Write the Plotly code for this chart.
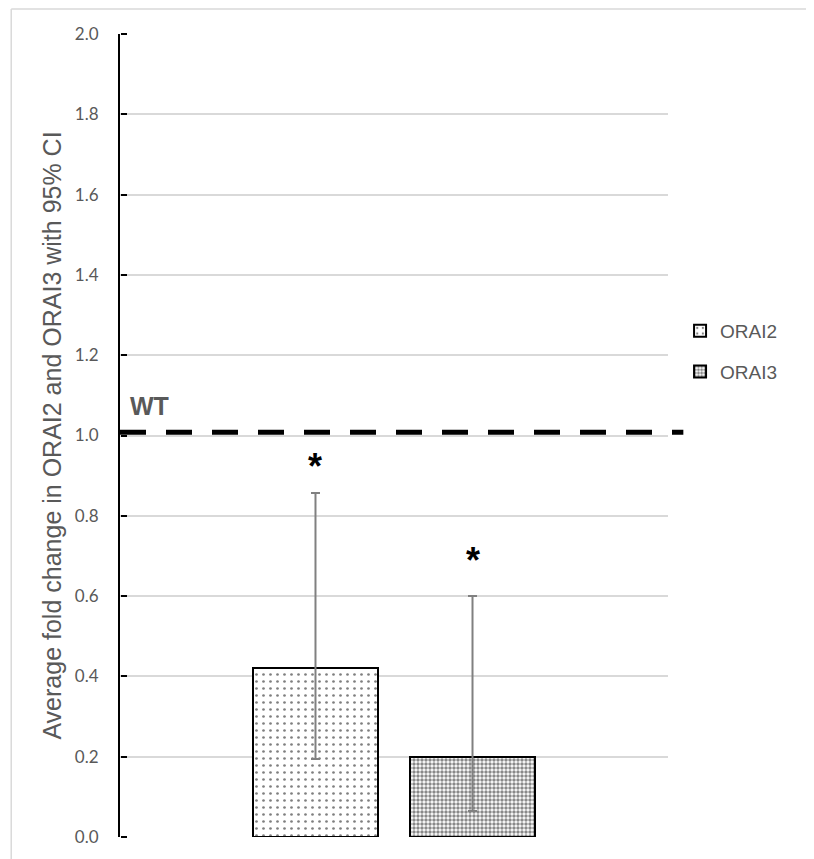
import plotly.graph_objects as go

# ---- data ----
series = ["ORAI2", "ORAI3"]
positions = [1, 2]
values = [0.42, 0.20]
ci_upper = [0.857, 0.60]
ci_lower = [0.194, 0.065]
sig_y = [0.93, 0.695]
sig_marks = ["*", "*"]
wt_level = 1.008
wt_label = "WT"
y_ticks = [0.0, 0.2, 0.4, 0.6, 0.8, 1.0, 1.2, 1.4, 1.6, 1.8, 2.0]
y_title = "Average fold change in ORAI2 and ORAI3 with 95% CI"

GRAY = "#595959"
patterns = [
    dict(shape=".", size=7, solidity=0.12, fgcolor="#000000", bgcolor="#ffffff", fillmode="overlay"),
    dict(shape=".", size=4, solidity=0.6, fgcolor="#111111", bgcolor="#ffffff", fillmode="overlay"),
]

fig = go.Figure()
for i, name in enumerate(series):
    fig.add_trace(go.Bar(
        x=[positions[i]], y=[values[i]], name=name, width=0.8, legendgroup=name,
        marker=dict(color="#ffffff", line=dict(color="#000000", width=2), pattern=patterns[i]),
        error_y=dict(type="data", symmetric=False,
                     array=[ci_upper[i] - values[i]],
                     arrayminus=[values[i] - ci_lower[i]],
                     color="#808080", thickness=2, width=4.5),
    ))
    fig.add_annotation(x=positions[i], y=sig_y[i], text="<b>" + sig_marks[i] + "</b>", showarrow=False,
                       yanchor="middle", yshift=-3,
                       font=dict(size=36, color="#000000", family="Liberation Sans"))

# empty helper trace so the tick-stub axis (y2) is drawn
fig.add_trace(go.Scatter(x=[], y=[], yaxis="y2", showlegend=False, hoverinfo="skip"))

# WT dashed reference line
fig.add_shape(type="line", xref="paper", yref="y", x0=0, x1=1.028, y0=wt_level, y1=wt_level,
              line=dict(color="#000000", width=5, dash="26px,20px"), layer="above")
fig.add_annotation(xref="paper", yref="y", x=0.014, y=wt_level, text="<b>" + wt_label + "</b>",
                   showarrow=False, xanchor="left", yanchor="middle", yshift=26,
                   font=dict(size=25, color=GRAY, family="Liberation Sans"))

# outer chart border (light gray)
fig.add_shape(type="line", xref="paper", yref="paper", x0=-0.1985, x1=-0.1985, y0=-0.05, y1=1.031,
              line=dict(color="#d9d9d9", width=1.5))
fig.add_shape(type="line", xref="paper", yref="paper", x0=-0.1985, x1=1.35, y0=1.031, y1=1.031,
              line=dict(color="#d9d9d9", width=1.5))

fig.update_layout(
    width=814, height=859,
    margin=dict(l=112, r=154, t=26, b=30),
    paper_bgcolor="#ffffff", plot_bgcolor="#ffffff",
    bargap=0, barmode="overlay",
    showlegend=True,
    legend=dict(x=1.022, y=0.654, xanchor="left", yanchor="top",
                font=dict(size=19, color=GRAY, family="Liberation Sans"),
                tracegroupgap=13, itemwidth=30, bgcolor="rgba(0,0,0,0)"),
    font=dict(family="Liberation Sans", color=GRAY),
    xaxis=dict(range=[-0.245, 3.245], showticklabels=False, showgrid=False, zeroline=False,
               showline=False, ticks=""),
    yaxis=dict(range=[0, 2.0], tickvals=y_ticks, ticktext=[f"{v:.1f}" for v in y_ticks],
               showgrid=True, gridcolor="#d9d9d9", gridwidth=1.5, zeroline=False,
               showline=True, linecolor="#000000", linewidth=2, layer="above traces",
               ticks="", ticklabelstandoff=16,
               tickfont=dict(size=17, color=GRAY, family="Lato"),
               title=dict(text=y_title, font=dict(size=25, color=GRAY, family="Liberation Sans"),
                          standoff=6)),
    # tick stubs pointing into the plot (Excel style)
    yaxis2=dict(overlaying="y", side="right", anchor="free", position=0, range=[0, 2.0],
                tickvals=y_ticks, showticklabels=False, showgrid=False, zeroline=False,
                showline=False, ticks="outside", ticklen=6, tickcolor="#000000", tickwidth=2),
)

fig.write_html("out.html")
